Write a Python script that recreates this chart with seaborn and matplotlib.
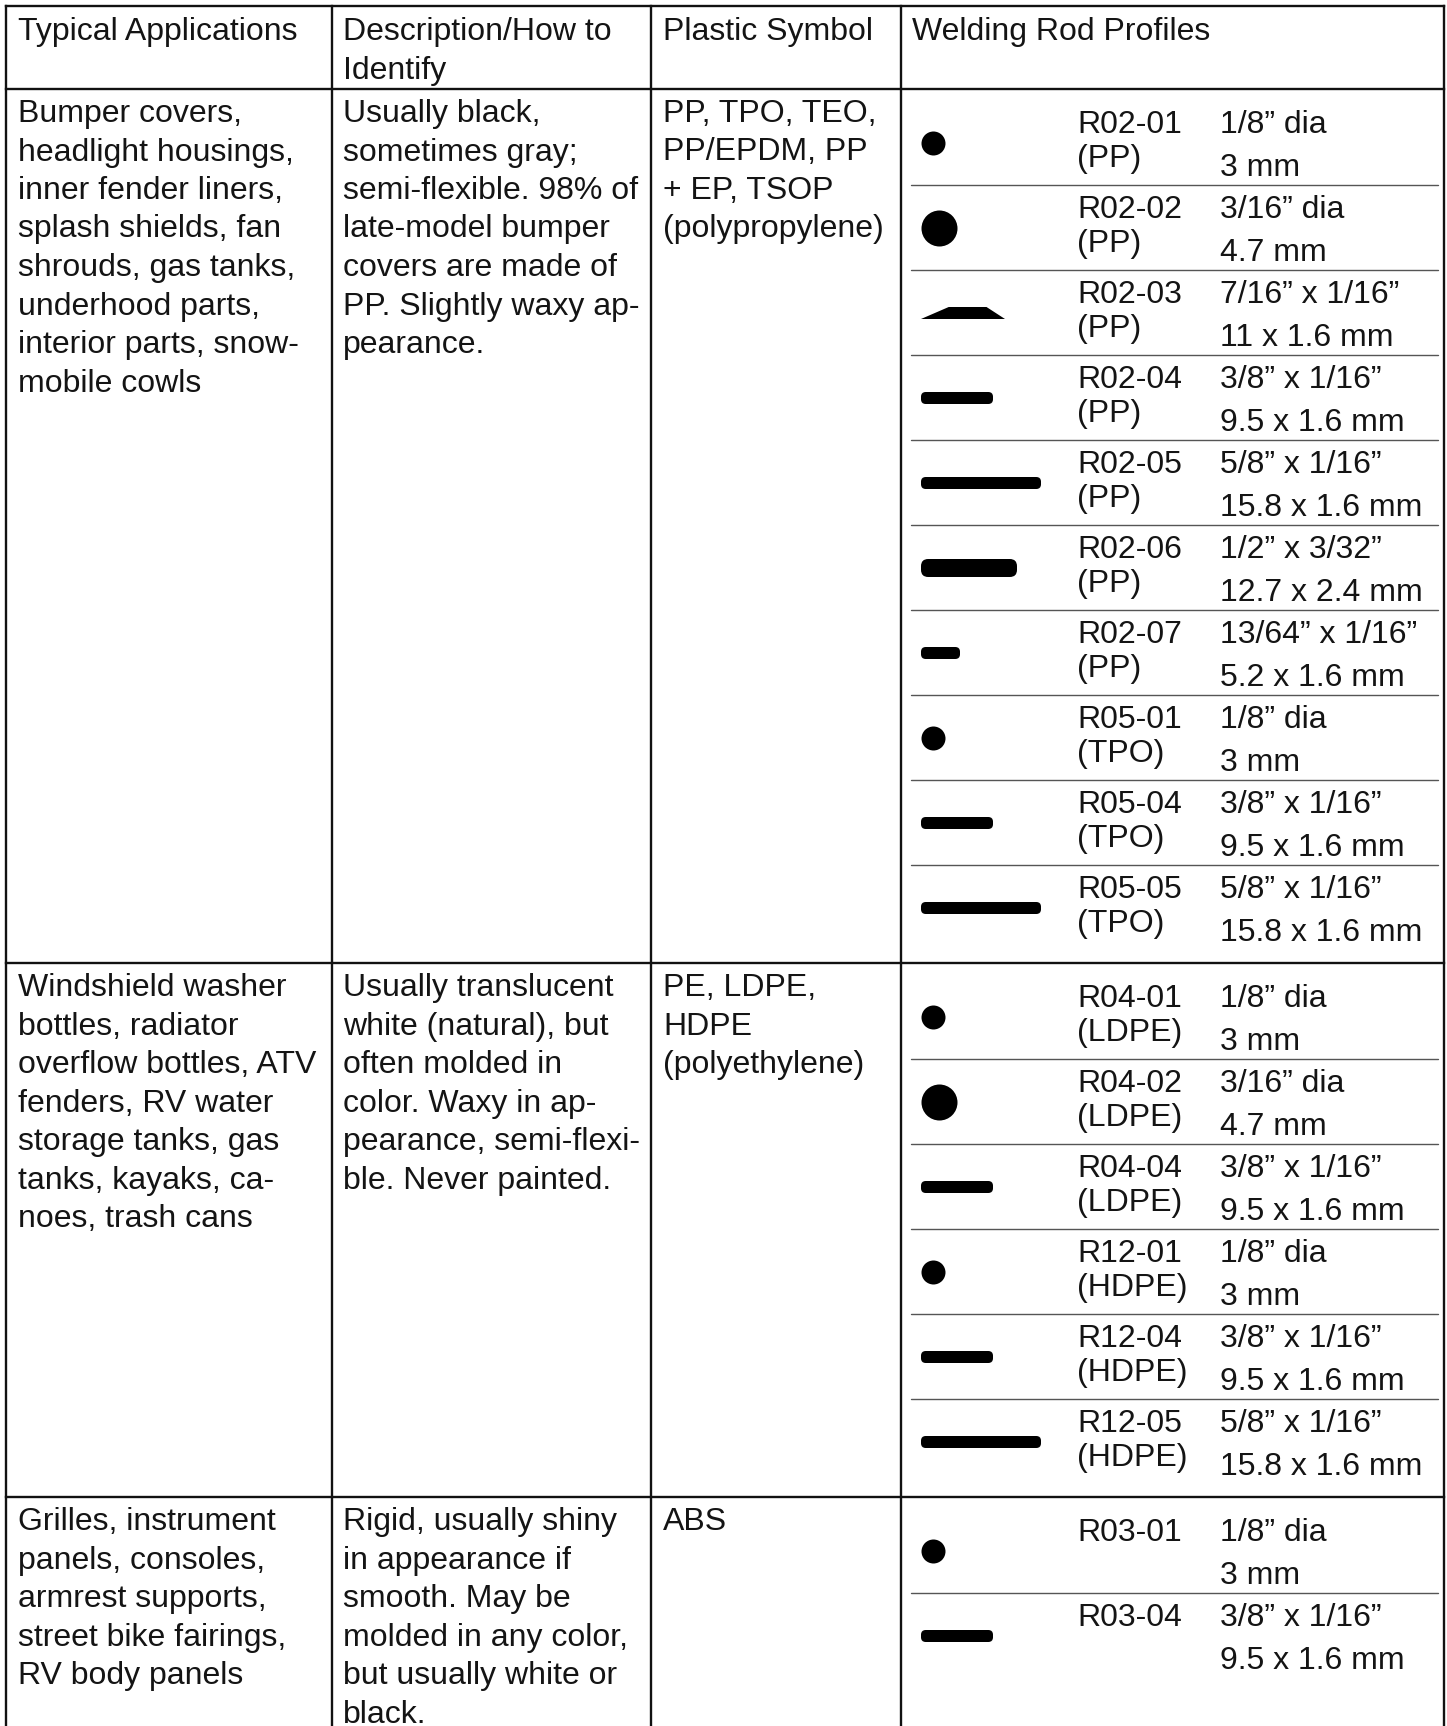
import matplotlib
matplotlib.use("Agg")
import matplotlib.pyplot as plt
from matplotlib.patches import FancyBboxPatch, Polygon
import seaborn as sns
import pandas as pd

# ---------------- data ----------------
headers = [["Typical Applications"], ["Description/How to", "Identify"],
           ["Plastic Symbol"], ["Welding Rod Profiles"]]

app_lines = [
    ["Bumper covers,", "headlight housings,", "inner fender liners,", "splash shields, fan",
     "shrouds, gas tanks,", "underhood parts,", "interior parts, snow-", "mobile cowls"],
    ["Windshield washer", "bottles, radiator", "overflow bottles, ATV", "fenders, RV water",
     "storage tanks, gas", "tanks, kayaks, ca-", "noes, trash cans"],
    ["Grilles, instrument", "panels, consoles,", "armrest supports,", "street bike fairings,",
     "RV body panels"],
]
desc_lines = [
    ["Usually black,", "sometimes gray;", "semi-flexible. 98% of", "late-model bumper",
     "covers are made of", "PP. Slightly waxy ap-", "pearance."],
    ["Usually translucent", "white (natural), but", "often molded in", "color. Waxy in ap-",
     "pearance, semi-flexi-", "ble. Never painted."],
    ["Rigid, usually shiny", "in appearance if", "smooth. May be", "molded in any color,",
     "but usually white or", "black."],
]
symbol_lines = [
    ["PP, TPO, TEO,", "PP/EPDM, PP", "+ EP, TSOP", "(polypropylene)"],
    ["PE, LDPE,", "HDPE", "(polyethylene)"],
    ["ABS"],
]

rod_group = [0]*10 + [1]*6 + [2]*2
rod_codes = ["R02-01", "R02-02", "R02-03", "R02-04", "R02-05", "R02-06", "R02-07",
             "R05-01", "R05-04", "R05-05",
             "R04-01", "R04-02", "R04-04", "R12-01", "R12-04", "R12-05",
             "R03-01", "R03-04"]
rod_materials = ["(PP)"]*7 + ["(TPO)"]*3 + ["(LDPE)"]*3 + ["(HDPE)"]*3 + ["", ""]
rod_shapes = ["round", "round", "trapezoid", "flat", "flat", "flat", "flat",
              "round", "flat", "flat",
              "round", "round", "flat", "round", "flat", "flat",
              "round", "flat"]
rod_width_in = [1/8, 3/16, 7/16, 3/8, 5/8, 1/2, 13/64,
                1/8, 3/8, 5/8,
                1/8, 3/16, 3/8, 1/8, 3/8, 5/8,
                1/8, 3/8]
rod_thick_in = [1/8, 3/16, 1/16, 1/16, 1/16, 3/32, 1/16,
                1/8, 1/16, 1/16,
                1/8, 3/16, 1/16, 1/8, 1/16, 1/16,
                1/8, 1/16]
rod_size_in = ["1/8\u201d dia", "3/16\u201d dia", "7/16\u201d x 1/16\u201d", "3/8\u201d x 1/16\u201d",
               "5/8\u201d x 1/16\u201d", "1/2\u201d x 3/32\u201d", "13/64\u201d x 1/16\u201d",
               "1/8\u201d dia", "3/8\u201d x 1/16\u201d", "5/8\u201d x 1/16\u201d",
               "1/8\u201d dia", "3/16\u201d dia", "3/8\u201d x 1/16\u201d",
               "1/8\u201d dia", "3/8\u201d x 1/16\u201d", "5/8\u201d x 1/16\u201d",
               "1/8\u201d dia", "3/8\u201d x 1/16\u201d"]
rod_size_mm = ["3 mm", "4.7 mm", "11 x 1.6 mm", "9.5 x 1.6 mm", "15.8 x 1.6 mm",
               "12.7 x 2.4 mm", "5.2 x 1.6 mm",
               "3 mm", "9.5 x 1.6 mm", "15.8 x 1.6 mm",
               "3 mm", "4.7 mm", "9.5 x 1.6 mm",
               "3 mm", "9.5 x 1.6 mm", "15.8 x 1.6 mm",
               "3 mm", "9.5 x 1.6 mm"]

# ---------------- layout (pixels) ----------------
W, H = 1447, 1726
sns.set_theme(style="white")
plt.rcParams["font.family"] = ["Liberation Sans", "DejaVu Sans"]
FS = 23
TXT = "#141414"
LINE = "#111111"

fig = plt.figure(figsize=(W/100, H/100), dpi=100)
ax = fig.add_axes([0, 0, 1, 1])
ax.set_xlim(0, W)
ax.set_ylim(H, 0)
ax.axis("off")

col_x = [6, 332, 651, 901, 1444]
text_x = [18, 343, 663, 912]
top = 6
header_bottom = 89
line_h = 38.5
sub_h = 85
first_extra = 11
last_extra = 13
px_per_in = 192

# row boundaries from number of rods per group
n_groups = 3
counts = [rod_group.count(g) for g in range(n_groups)]
row_tops = [header_bottom]
for g in range(n_groups - 1):
    row_tops.append(row_tops[-1] + first_extra + sub_h * counts[g] + last_extra)

bk = dict(color=LINE, lw=1.7, solid_capstyle="projecting")
ax.plot([col_x[0], col_x[-1]], [top, top], **bk)
for x in col_x:
    ax.plot([x, x], [top, H + 5], **bk)
ax.plot([col_x[0], col_x[-1]], [header_bottom, header_bottom], **bk)
for y in row_tops[1:]:
    ax.plot([col_x[0], col_x[-1]], [y, y], **bk)

# header text
for c, lines in enumerate(headers):
    for i, t in enumerate(lines):
        ax.text(text_x[c], top + 34 + i * line_h, t, fontsize=FS, color=TXT,
                ha="left", va="baseline")

# body text columns
for g in range(n_groups):
    y0 = row_tops[g]
    for c, block in enumerate([app_lines, desc_lines, symbol_lines]):
        for i, t in enumerate(block[g]):
            ax.text(text_x[c], y0 + 33 + i * line_h, t, fontsize=FS, color=TXT,
                    ha="left", va="baseline")

# welding rod sub-rows
shape_left = 921
code_x = 1077
size_x = 1220
k_in_group = {}
for i, code in enumerate(rod_codes):
    g = rod_group[i]
    k = k_in_group.get(g, 0)
    k_in_group[g] = k + 1
    y0 = row_tops[g]
    base = y0 + first_extra + 33 + sub_h * k
    cy = base + 10
    ax.text(code_x, base, code, fontsize=FS, color=TXT, ha="left", va="baseline")
    if rod_materials[i]:
        ax.text(code_x, base + 34, rod_materials[i], fontsize=FS, color=TXT,
                ha="left", va="baseline")
    ax.text(size_x, base, rod_size_in[i], fontsize=FS, color=TXT, ha="left", va="baseline")
    ax.text(size_x, base + 43, rod_size_mm[i], fontsize=FS, color=TXT, ha="left", va="baseline")
    if k < counts[g] - 1:
        sy = y0 + first_extra + sub_h * (k + 1)
        ax.plot([911, 1438], [sy, sy], color="#555555", lw=1.0)
    w = rod_width_in[i] * px_per_in
    t = rod_thick_in[i] * px_per_in
    if rod_shapes[i] == "round":
        d = w
        df = pd.DataFrame({"x": [shape_left + d / 2], "y": [cy]})
        sns.scatterplot(data=df, x="x", y="y", s=(d * 0.72) ** 2, color="black",
                        linewidth=0, ax=ax, legend=False)
    elif rod_shapes[i] == "trapezoid":
        inset_l, inset_r = 0.33 * w, 0.22 * w
        poly = Polygon([(shape_left, cy + t / 2), (shape_left + inset_l, cy - t / 2),
                        (shape_left + w - inset_r, cy - t / 2), (shape_left + w, cy + t / 2)],
                       closed=True, facecolor="black", edgecolor="none")
        ax.add_patch(poly)
    else:
        box = FancyBboxPatch((shape_left, cy - t / 2), w, t,
                             boxstyle="round,pad=0,rounding_size=%g" % (t * 0.4),
                             facecolor="black", edgecolor="none")
        ax.add_patch(box)

fig.savefig("out.png", dpi=100, facecolor="white")
